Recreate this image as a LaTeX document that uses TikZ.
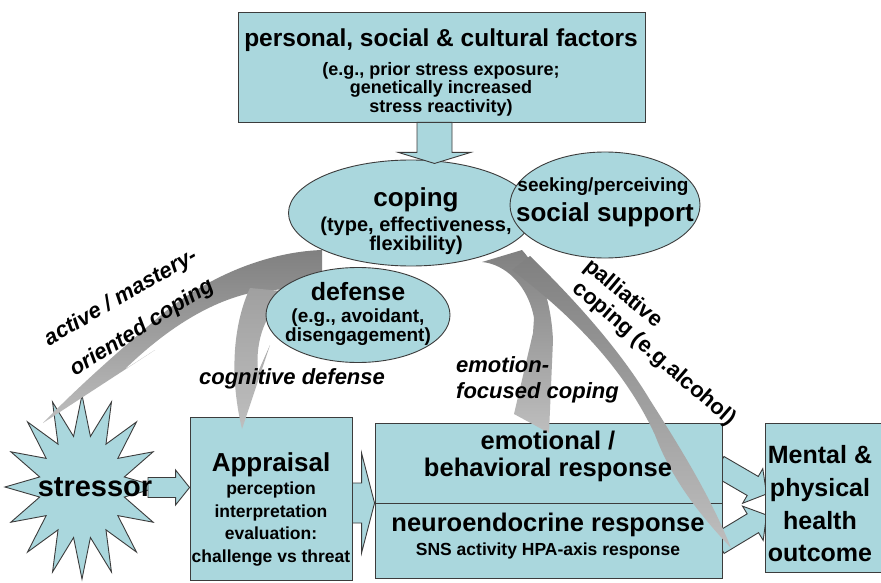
\documentclass[tikz,border=0pt]{standalone}
\usepackage{fontspec}
\setmainfont{Liberation Sans}
\usetikzlibrary{calc,shapes.geometric,shadings}

\definecolor{cyanfill}{RGB}{170,215,221}
\definecolor{outline}{RGB}{60,60,60}
\definecolor{gdark}{RGB}{128,128,128}
\definecolor{gmid}{RGB}{160,160,160}
\definecolor{glight}{RGB}{190,190,190}

\newcommand{\fsz}[1]{\fontsize{#1}{#1}\selectfont}

% straight block arrow: start, tip, shaft half-width, head half-width, head length
\newcommand{\blockarrow}[5]{%
  \draw[blk]
    ($(#1)!#3!90:(#2)$) --
    ($($(#2)!#5!(#1)$)!#3!90:(#2)$) --
    ($($(#2)!#5!(#1)$)!#4!90:(#2)$) --
    (#2) --
    ($($(#2)!#5!(#1)$)!#4!-90:(#2)$) --
    ($($(#2)!#5!(#1)$)!#3!-90:(#2)$) --
    ($(#1)!#3!-90:(#2)$) -- cycle;}

\pgfdeclarelayer{back}
\pgfsetlayers{back,main}

\begin{document}
\begin{tikzpicture}[x=1pt,y=-1pt,
  panel/.style={draw=outline,line width=0.9pt,fill=cyanfill,inner sep=0pt},
  oval/.style={panel,ellipse},
  blk/.style={draw=outline,line width=0.9pt,fill=cyanfill,line join=miter},
  txt/.style={inner sep=0pt,align=center},
  lab/.style={inner sep=0pt,font=\bfseries\itshape\fsz{22}},
  labup/.style={inner sep=0pt,font=\bfseries\fsz{22}},
  gband/.style={top color=#1,bottom color=glight,draw=none},
]
\useasboundingbox (0,0) rectangle (881,583);
\begin{pgfonlayer}{back}
  \fill[white] (0,0) rectangle (881,583);
\end{pgfonlayer}

% ---------- boxes ----------
\node[panel,minimum width=407pt,minimum height=110pt] (factors) at (441.5,67) {};
\node[panel,minimum width=162pt,minimum height=163pt] (appraisal) at (271,498.5) {};
\node[panel,minimum width=347pt,minimum height=155pt] (response) at (548.5,500.5) {};
\node[panel,minimum width=118pt,minimum height=149pt] (outcome) at (824,497.5) {};
\draw[outline,line width=0.9pt] ($(response.west)+(0,2.5)$) -- ($(response.east)+(0,2.5)$);

% ---------- arrows partly tucked behind the boxes ----------
\begin{pgfonlayer}{back}
  \coordinate (upA) at ($(response.east)+(-4,-34.5)$);
  \coordinate (upB) at ($(outcome.west)+(2,-3.5)$);
  \coordinate (loA) at ($(response.east)+(-4,43.5)$);
  \coordinate (loB) at ($(outcome.west)+(2,17.5)$);
  \blockarrow{upA}{upB}{11pt}{20pt}{16pt}
  \blockarrow{loA}{loB}{11pt}{20pt}{16pt}
  \coordinate (arA) at ($(appraisal.east)+(-2,4.5)$);
  \coordinate (arB) at (arA -| response.west);
  \blockarrow{arA}{arB}{20pt}{50pt}{13pt}
\end{pgfonlayer}

% ---------- stressor star ----------
\draw[blk] (159,487)
  \foreach \k [evaluate=\k as \rr using {ifthenelse(isodd(\k),0.56,1)}] in {1,...,31}
  { -- ({82+77*\rr*cos(\k*11.25)},{487+92*\rr*sin(\k*11.25)}) } -- cycle;
\coordinate (saA) at (148,487.5);
\coordinate (saB) at (saA -| appraisal.west);
\blockarrow{saA}{saB}{10pt}{17.5pt}{14pt}

% ---------- grey coping pathways ----------
% active / mastery-oriented coping
\path[gband=gdark] (322,250) .. controls (265,252) and (205,278) .. (160,316)
  .. controls (120,350) and (80,385) .. (43,423) -- (155,350) -- (124,370)
  .. controls (160,335) and (205,302) .. (255,292) -- (322,285) -- cycle;
% cognitive defense
\path[gband=gmid] (250,288) .. controls (235,320) and (228,370) .. (242,429)
  -- (270,345) -- (258,372) .. controls (255,340) and (265,310) .. (292,292) -- cycle;
% emotion-focused coping
\path[gband=gdark] (482,262) .. controls (505,264) and (528,285) .. (534,318)
  -- (533,333) -- (514,414) -- (549,433) -- (553,340)
  .. controls (551,300) and (540,270) .. (522,250) -- cycle;
% palliative coping
\path[gband=gdark] (530,256) .. controls (575,300) and (620,350) .. (650,400)
  .. controls (685,455) and (712,500) .. (731,548)
  .. controls (700,515) and (672,480) .. (655,435)
  .. controls (625,370) and (575,318) .. (512,270) -- cycle;

% ---------- ellipses ----------
\node[oval,minimum width=245pt,minimum height=106pt] (coping) at (411,213) {};
\node[oval,minimum width=190pt,minimum height=106pt] (support) at (605,205) {};
\node[oval,minimum width=184pt,minimum height=95pt] (defense) at (358,315) {};

% factors feed into coping
\coordinate (fdA) at ($(factors.south)+(-7,0)$);
\coordinate (fdB) at ($(fdA)+(0,41)$);
\blockarrow{fdA}{fdB}{17.5pt}{36pt}{11pt}

% ---------- texts ----------
\node[txt,font=\bfseries\fsz{24.5}] (factorsT) at (441,40) {personal, social \& cultural factors};
\node[txt,font=\bfseries\fontsize{18}{18.5}\selectfont] (factorsS) at (441,89)
  {(e.g., prior stress exposure;\\genetically increased\\stress reactivity)};

\node[txt,font=\bfseries\fsz{26}] (copingT) at (416,200) {coping};
\node[txt,font=\bfseries\fontsize{20}{19.5}\selectfont] (copingS) at (416,236)
  {(type, effectiveness,\\flexibility)};

\node[txt,font=\bfseries\fsz{19}] (supportS) at (603,187) {seeking/perceiving};
\node[txt,font=\bfseries\fsz{26}] (supportT) at (605,215) {social support};

\node[txt,font=\bfseries\fsz{25}] (defenseT) at (358,292) {defense};
\node[txt,font=\bfseries\fontsize{19}{19}\selectfont] (defenseS) at (358,327)
  {(e.g., avoidant,\\disengagement)};

\node[txt,font=\bfseries\fsz{29}] (stressorT) at (95,487) {stressor};

\node[txt,font=\bfseries\fsz{26}] (appraisalT) at (271,465) {Appraisal};
\node[txt,font=\bfseries\fontsize{17.5}{22.7}\selectfont] (appraisalS) at (271,524)
  {perception\\interpretation\\evaluation:\\challenge vs threat};

\node[txt,font=\bfseries\fontsize{25.5}{27}\selectfont] (emoT) at (548,456)
  {emotional /\\behavioral response};
\node[txt,font=\bfseries\fsz{25.5}] (neuroT) at (548,525) {neuroendocrine response};
\node[txt,font=\bfseries\fsz{17.5}] (neuroS) at (548,551) {SNS activity HPA-axis response};

\node[txt,font=\bfseries\fontsize{25}{32.7}\selectfont] (outcomeT) at (820,504)
  {Mental \&\\physical\\health\\outcome};

\node[lab,rotate=30] (labActA) at (121,298) {active / mastery-};
\node[lab,rotate=32] (labActB) at (142,328) {oriented coping};
\node[lab] (labCog) at (292,379) {cognitive defense};
\node[lab,align=left,anchor=west,font=\bfseries\itshape\fontsize{22}{26}\selectfont] (labEmo) at (456,380)
  {emotion-\\focused coping};
\node[labup,rotate=-40] (labPalA) at (623,294) {palliative};
\node[labup,rotate=-41] (labPalB) at (654,354) {coping (e.g.alcohol)};
\end{tikzpicture}
\end{document}
